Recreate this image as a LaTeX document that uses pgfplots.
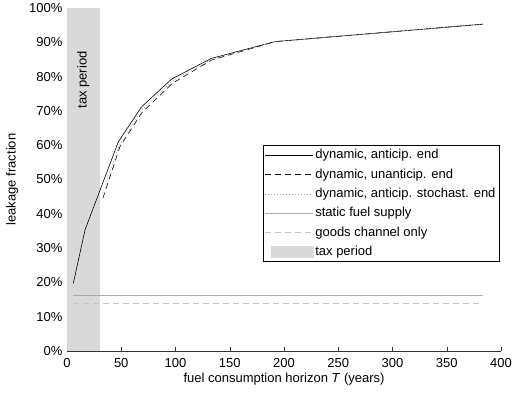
\documentclass[border=0pt]{standalone}
\usepackage{fontspec}
\setmainfont{Liberation Sans}
\usepackage{pgfplots}
\pgfplotsset{compat=1.18}
\definecolor{taxgray}{gray}{0.85}
\begin{document}
\fontsize{13}{15.5}\selectfont
\begin{tikzpicture}
\begin{axis}[
  scale only axis, width=434pt, height=343pt,
  xmin=0, xmax=400, ymin=0, ymax=100,
  axis x line*=bottom, axis y line*=left,
  axis line style={-, black!80},
  tick align=inside, tick style={black!80},
  major tick length=4pt,
  xtick={0,50,...,400}, ytick={0,10,...,100},
  yticklabel={\pgfmathprintnumber{\tick}\%},
  /pgf/number format/assume math mode=true,
  ticklabel style={font=\fontsize{13}{15.5}\selectfont},
  xticklabel style={yshift=-3pt},
  label style={font=\fontsize{13}{15.5}\selectfont},
  xlabel={fuel consumption horizon \textit{T} (years)},
  ylabel={leakage fraction},
  xlabel style={yshift=4pt},
  ylabel style={yshift=2pt},
  legend style={at={(rel axis cs:0.997,0.26)}, anchor=south east,
    draw=black, font=\fontsize{13}{15.5}\selectfont, row sep=4pt,
    inner xsep=2pt, inner ysep=2pt, cells={anchor=west}},
  legend image code/.code={\draw[#1] (0pt,0pt) -- (48pt,0pt);},
  clip=false,
]
\addplot[fill=taxgray, draw=none, forget plot] coordinates {(0,0) (30,0) (30,100) (0,100)} -- cycle;
\node[rotate=90, anchor=center] at (axis cs:15,79) {tax period};
\addplot[black, line width=0.6pt] coordinates {
(5.8,19.7) (16.6,35.3) (47.3,61) (68.8,71.2) (96.5,79.3) (133,85.3) (191.7,90.2) (383.7,95.3)};
\addlegendentry{dynamic, anticip. end}
\addplot[black, line width=0.6pt, dash pattern=on 6pt off 4pt] coordinates {
(33,44.5) (48.8,59.6) (69,69.5) (97,78) (133,84.8) (191.7,90.2) (383.7,95.3)};
\addlegendentry{dynamic, unanticip. end}
\addplot[gray!70, line width=0.6pt, dash pattern=on 1pt off 2pt] coordinates {
(33,46) (48,59.8) (69,70.3) (97,78.7) (133,85) (191.7,90.2) (383.7,95.3)};
\addlegendentry{dynamic, anticip. stochast. end}
\addplot[gray!65, line width=0.6pt] coordinates {(5.8,16.3) (383.7,16.3)};
\addlegendentry{static fuel supply}
\addplot[gray!45, line width=0.6pt, dash pattern=on 6pt off 4pt] coordinates {(5.8,13.9) (383.7,13.9)};
\addlegendentry{goods channel only}
\addlegendimage{legend image code/.code={\fill[taxgray] (6pt,-5.5pt) rectangle (48pt,5.5pt);}}
\addlegendentry{tax period}
\end{axis}
\pgfresetboundingbox
\path (-67pt,-41pt) rectangle (445pt,351pt);
\end{tikzpicture}
\end{document}
